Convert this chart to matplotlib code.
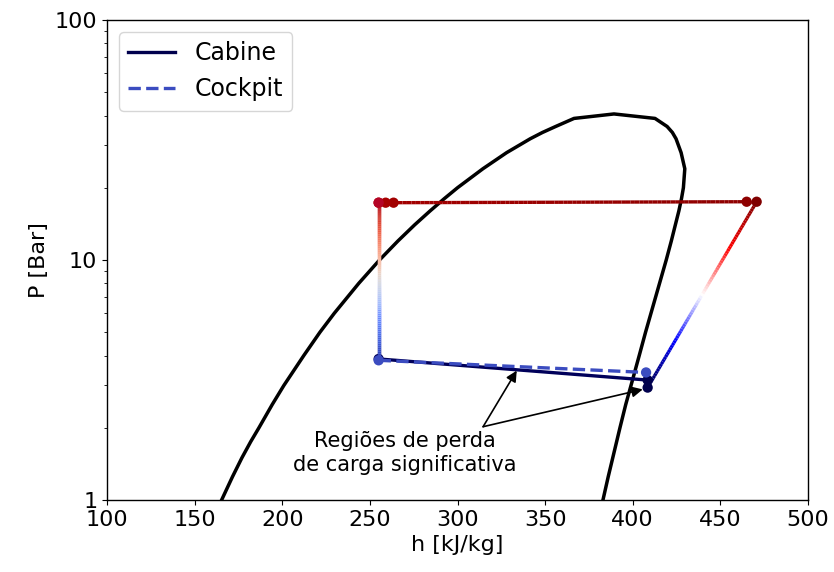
import numpy as np
import matplotlib
matplotlib.use("Agg")
import matplotlib.pyplot as plt
from matplotlib.collections import LineCollection
from matplotlib.lines import Line2D
from matplotlib.ticker import FuncFormatter

# Curva de saturação do R134a (P em bar, h em kJ/kg)
P_sat = [1.0, 1.25, 1.5, 1.75, 2.0, 2.5, 3.0, 4.0, 5.0, 6.0, 8.0, 10.0, 12.0,
         14.0, 16.0, 18.0, 20.0, 24.0, 28.0, 32.0, 34.0, 36.0, 38.9, 40.6]
h_liq = [165.4, 171.6, 177.0, 182.0, 186.7, 194.3, 200.9, 212.3, 221.5, 229.7,
         243.7, 255.5, 266.0, 275.5, 284.3, 292.4, 300.0, 314.5, 328.0, 341.5,
         348.5, 356.0, 366.5, 389.3]
h_vap = [383.0, 386.0, 388.6, 390.8, 392.7, 396.0, 399.0, 403.7, 407.3, 410.4,
         415.3, 419.1, 422.0, 424.3, 426.3, 427.8, 428.9, 429.7, 427.6, 424.7,
         422.6, 419.6, 412.7, 389.3]

# Ciclo da cabine: entrada evap., saída evap., sucção, descarga, condensador..., válvula
h_cab = [255.0, 408.5, 408.5, 470.7, 465.0, 263.5, 259.0, 255.0]
P_cab = [3.87, 3.16, 2.94, 17.49, 17.49, 17.33, 17.33, 17.33]
nivel_cab = [0.02, 0.0, 0.0, 1.0, 0.97, 0.93, 0.92, 0.90]

# Ramo do cockpit: entrada da válvula, entrada evap., saída evap.
h_ck = [255.0, 255.0, 407.6]
P_ck = [17.33, 3.82, 3.40]
nivel_ck = [1.0, 0.0, 0.0]

cmap_cab = plt.get_cmap('seismic')
cmap_ck = plt.get_cmap('coolwarm')


def trecho_gradiente(ax, h, P, c, cmap, n=80, **kw):
    # divide o trecho para pintar o gradiente de cor (reta no eixo log)
    hh = np.linspace(h[0], h[1], n)
    pp = np.logspace(np.log10(P[0]), np.log10(P[1]), n)
    cc = np.linspace(c[0], c[1], n)
    pts = np.column_stack([hh, pp]).reshape(-1, 1, 2)
    segs = np.concatenate([pts[:-1], pts[1:]], axis=1)
    lc = LineCollection(segs, colors=cmap(0.5 * (cc[:-1] + cc[1:])), **kw)
    ax.add_collection(lc)


fig = plt.figure(figsize=(8.34, 5.72), dpi=100)
ax = fig.add_axes([107 / 834, 1 - 500 / 572, 701 / 834, 480 / 572])

# domo de saturação
h_domo = h_liq + h_vap[::-1][1:]
P_domo = P_sat + P_sat[::-1][1:]
ax.plot(h_domo, P_domo, color='black', lw=2.5, zorder=2)

# cabine
n = len(h_cab)
for i in range(n):
    j = (i + 1) % n
    if i == 0:
        ax.plot([h_cab[i], h_cab[j]], [P_cab[i], P_cab[j]],
                color=cmap_cab(nivel_cab[i]), lw=2.4, zorder=3)
    else:
        trecho_gradiente(ax, [h_cab[i], h_cab[j]], [P_cab[i], P_cab[j]],
                         [nivel_cab[i], nivel_cab[j]], cmap_cab, lw=2.4, zorder=3)
ax.scatter(h_cab, P_cab, c=[cmap_cab(v) for v in nivel_cab], s=55, zorder=4,
           linewidths=0)

# cockpit
trecho_gradiente(ax, h_ck[:2], P_ck[:2], nivel_ck[:2], cmap_ck, lw=2.4, zorder=5)
ax.plot(h_ck[1:], P_ck[1:], color=cmap_ck(0.0), lw=2.4, ls='--', zorder=5)
ax.scatter(h_ck, P_ck, c=[cmap_ck(v) for v in nivel_ck], s=55, zorder=6,
           linewidths=0)

# anotação das perdas de carga
txt_h, txt_P = 314.6, 2.02
alvos = [(333.8, 3.46), (405.7, 2.89)]
for alvo in alvos:
    ax.annotate('', xy=alvo, xytext=(txt_h, txt_P),
                arrowprops=dict(arrowstyle='-|>', color='black', lw=1.2,
                                mutation_scale=16, shrinkA=0, shrinkB=0),
                zorder=7)
ax.text(269.8, 1.57, 'Regiões de perda\nde carga significativa', fontsize=15,
        ha='center', va='center', multialignment='center')

ax.set_yscale('log')
ax.set_xlim(100, 500)
ax.set_ylim(1, 100)
ax.set_xticks(np.arange(100, 501, 50))
ax.yaxis.set_major_formatter(FuncFormatter(lambda v, _: f'{v:g}'))
ax.tick_params(labelsize=16)
ax.set_xlabel('h [kJ/kg]', fontsize=16)
ax.set_ylabel('P [Bar]', fontsize=16)
for s in ax.spines.values():
    s.set_linewidth(1.0)

handles = [Line2D([], [], color=cmap_cab(0.0), lw=2.4),
           Line2D([], [], color=cmap_ck(0.0), lw=2.4, ls='--')]
ax.legend(handles, ['Cabine', 'Cockpit'], loc='upper left', fontsize=17)

fig.savefig('out.png', dpi=100)
